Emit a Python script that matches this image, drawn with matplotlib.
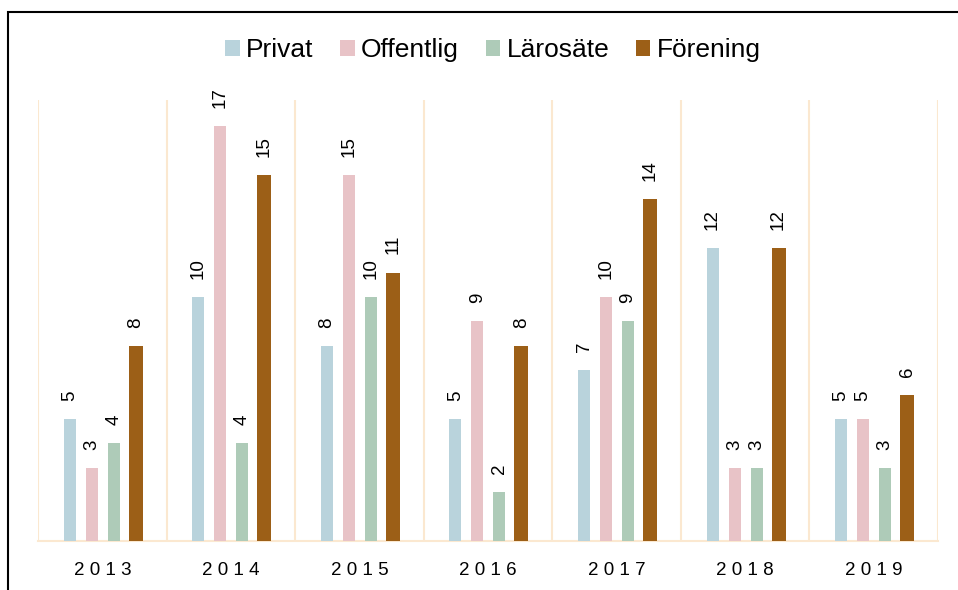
import numpy as np
import matplotlib
matplotlib.use("Agg")
import matplotlib.pyplot as plt
from matplotlib.patches import Rectangle

plt.rcParams['font.family'] = ['Liberation Sans', 'DejaVu Sans']

########## DATA ##########
years = ['2013', '2014', '2015', '2016', '2017', '2018', '2019']
series = ['Privat', 'Offentlig', 'Lärosäte', 'Förening']
privat = [5, 10, 8, 5, 7, 12, 5]
offentlig = [3, 17, 15, 9, 10, 3, 5]
larosate = [4, 4, 10, 2, 9, 3, 3]
forening = [8, 15, 11, 8, 14, 12, 6]
values = [privat, offentlig, larosate, forening]
colors = ['#B9D3DC', '#E8C3C7', '#AECBB8', '#9C5F17']

########## FIGURE ##########
fig = plt.figure(figsize=(9.58, 5.9), dpi=100)
ax = fig.add_axes([38/958, 49/590, 900/958, 441/590])

x = np.arange(len(years))
offsets = [-0.253, -0.082, 0.089, 0.260]
widths = [0.093, 0.093, 0.093, 0.109]

for vals, off, w, c, name in zip(values, offsets, widths, colors, series):
    bars = ax.bar(x + off, vals, width=w, color=c, label=name, zorder=3)
    for b, v in zip(bars, vals):
        ax.annotate(str(v), (b.get_x() + b.get_width()/2, v),
                    xytext=(0, 13), textcoords='offset points',
                    rotation=90, ha='center', va='bottom', fontsize=13.5)

# group separators
for s in np.arange(-0.5, len(years), 1):
    ax.axvline(s, color='#FBE8D0', lw=1.5, zorder=1)

ax.set_xlim(-0.5, len(years) - 0.5)
ax.set_ylim(0, 18.07)
ax.set_yticks([])
ax.set_xticks(x)
ax.set_xticklabels([' '.join(y) for y in years], fontsize=13.5)
ax.tick_params(axis='x', length=0, pad=15)
for side in ['top', 'left', 'right']:
    ax.spines[side].set_visible(False)
ax.spines['bottom'].set_color('#FBE8D0')
ax.spines['bottom'].set_linewidth(1.5)

leg = fig.legend(loc='center', bbox_to_anchor=(493/958, 1 - 50/590), ncol=4,
                 frameon=False, fontsize=19, handlelength=0.55, handleheight=0.55,
                 handletextpad=0.25, columnspacing=1.0)

# outer border
fig.patches.append(Rectangle((8/958, -0.05), 1.0, 1 - 12/590 + 0.05,
                             transform=fig.transFigure, fill=False,
                             edgecolor='black', lw=1.5, zorder=0))

fig.savefig('out.png', dpi=100)
